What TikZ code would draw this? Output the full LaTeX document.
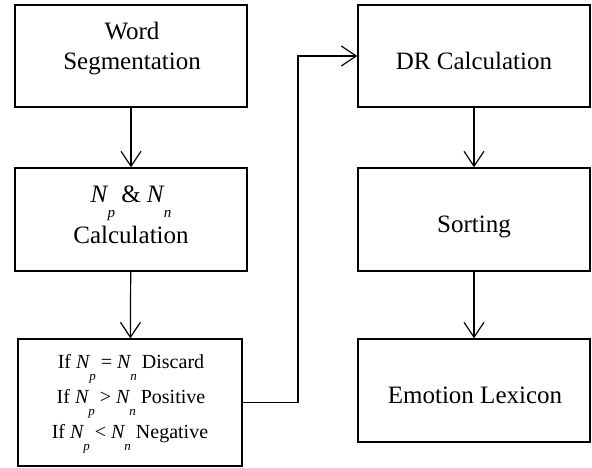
\documentclass[tikz,border=0pt]{standalone}
\usepackage{fontspec}
\setmainfont{Liberation Serif}
\usetikzlibrary{arrows.meta}
\newcommand{\Nsb}[2]{\textit{N}\kern-1pt\raisebox{-0.64em}{\fontsize{#2}{#2}\selectfont\textit{#1}}}
\begin{document}
\begin{tikzpicture}[x=1pt,y=-1pt,
  box/.style={draw,line width=1.3pt,minimum width=232pt,minimum height=102pt,inner sep=0pt},
  big/.style={anchor=base,inner sep=0pt,font=\fontsize{25}{30}\selectfont},
  small/.style={anchor=base,inner sep=0pt,font=\fontsize{20}{24}\selectfont},
  arr/.style={line width=1.2pt,-{Straight Barb[length=15pt,width=20pt,line width=1.2pt]}}]
\useasboundingbox (0,0) rectangle (592,468);
% boxes
\node[box] (ws) at (131,56) {};
\node[box,minimum height=103pt] (nc) at (131,219.5) {};
\node[box,minimum width=224pt,minimum height=127pt] (cond) at (130,402.5) {};
\node[box] (dr) at (474,56) {};
\node[box,minimum height=103pt] (so) at (474,219.5) {};
\node[box,minimum height=103pt] (el) at (474,390.5) {};
% texts
\node[big] (t1a) at (132,40) {Word};
\node[big] (t1b) at (132,70) {Segmentation};
\node[big] (t2a) at (131,202) {\Nsb{p}{15} \& \Nsb{n}{15}};
\node[big] (t2b) at (131,243) {Calculation};
\node[small] (t3a) at (131,368) {If \Nsb{p}{13} = \Nsb{n}{13} Discard};
\node[small] (t3b) at (131,403) {If \Nsb{p}{13} {>} \Nsb{n}{13} Positive};
\node[small] (t3c) at (130,438) {If \Nsb{p}{13} {<} \Nsb{n}{13} Negative};
\node[big] (t4) at (474,70) {DR Calculation};
\node[big] (t5) at (474,232) {Sorting};
\node[big] (t6) at (475,403) {Emotion Lexicon};
% connectors
\coordinate (turn) at (298,0);
\draw[arr] (ws) -- (nc);
\draw[arr] (nc) -- (cond);
\draw[arr] (dr) -- (so);
\draw[arr] (so) -- (el);
\draw[arr] (cond.east) -- (cond.east -| turn) -- (dr.west -| turn) -- (dr.west);
\end{tikzpicture}
\end{document}
